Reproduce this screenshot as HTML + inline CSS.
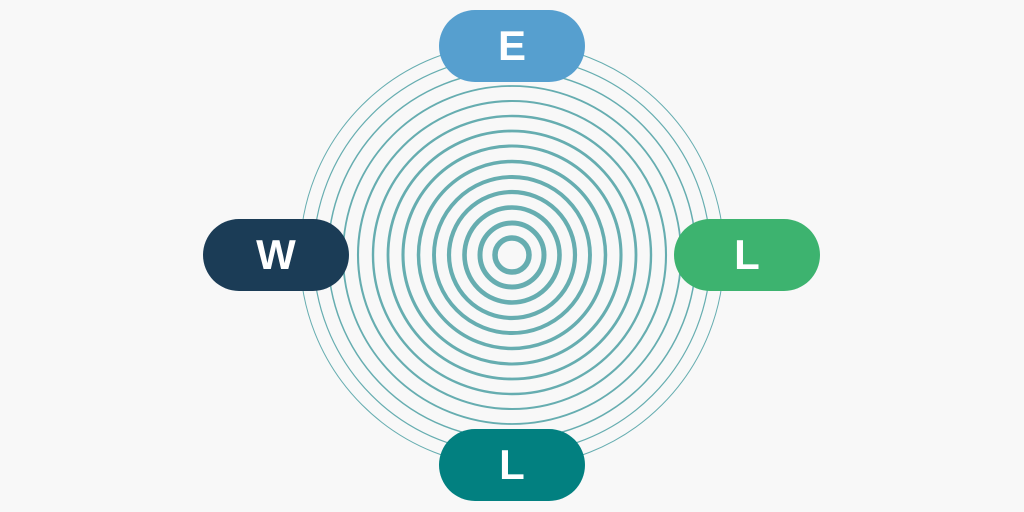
<!DOCTYPE html>
<html><head><style>
html,body{margin:0;padding:0;background:#f8f8f8;}
.p{position:absolute;width:146px;height:72px;border-radius:36px;color:#fff;font:bold 42px "Liberation Sans",sans-serif;display:flex;align-items:center;justify-content:center;}
</style></head><body>
<div style="position:relative;width:1024px;height:512px;overflow:hidden">
<svg width="1024" height="512" style="position:absolute;left:0;top:0">
<g fill="none" stroke="#66adb0">
<circle cx="512" cy="255" r="17" stroke-width="5.5"/>
<circle cx="512" cy="255" r="32" stroke-width="5"/>
<circle cx="512" cy="255" r="47.5" stroke-width="4.6"/>
<circle cx="512" cy="255" r="63" stroke-width="4.2"/>
<circle cx="512" cy="255" r="78" stroke-width="3.9"/>
<circle cx="512" cy="255" r="93.5" stroke-width="3.5"/>
<circle cx="512" cy="255" r="109" stroke-width="3.1"/>
<circle cx="512" cy="255" r="124" stroke-width="2.8"/>
<circle cx="512" cy="255" r="139" stroke-width="2.4"/>
<circle cx="512" cy="255" r="154" stroke-width="2.1"/>
<circle cx="512" cy="255" r="169" stroke-width="1.8"/>
<circle cx="512" cy="255" r="184" stroke-width="1.5"/>
<circle cx="512" cy="255" r="198.5" stroke-width="1.2"/>
<circle cx="512" cy="255" r="212" stroke-width="1"/>
</g></svg>
<div class="p" style="left:439px;top:10px;background:#569fcf">E</div>
<div class="p" style="left:203px;top:219px;background:#1b3c56">W</div>
<div class="p" style="left:674px;top:219px;background:#3db36f">L</div>
<div class="p" style="left:439px;top:429px;background:#028080">L</div>
</div>
</body></html>
